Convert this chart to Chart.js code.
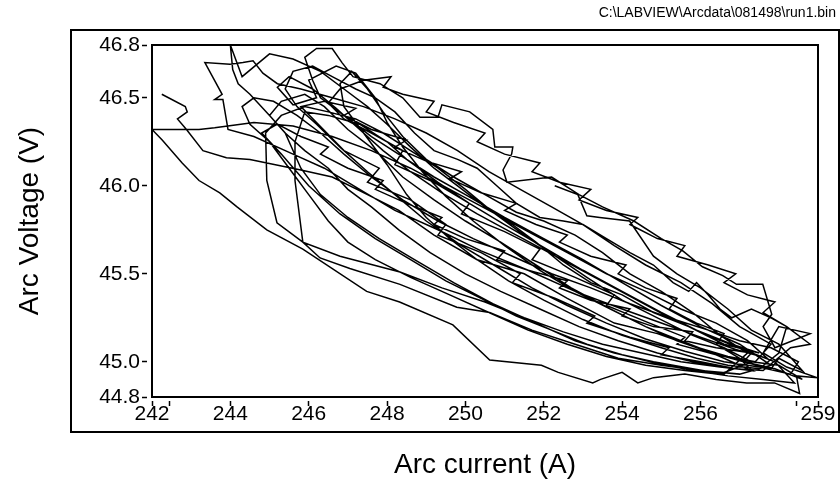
<!DOCTYPE html>
<html>
<head>
<meta charset="utf-8">
<script src="https://cdn.jsdelivr.net/npm/chart.js@4.4.0/dist/chart.umd.min.js"></script>
<style>
  html, body { margin: 0; padding: 0; background: #fff; }
</style>
</head>
<body>
<canvas id="canvas" width="840" height="487"></canvas>
<script>
// Arc current (A) / arc voltage (V) samples in order
const arcCurrent = [
  242.25, 242.85, 242.9, 242.65, 242.88, 243.3, 243.9, 244.5, 245.8, 246.6, 247.5, 248.3, 249.2, 250.3, 251.5, 252.6, 253.8, 254.9, 255.8, 256.7, 257.4,
  257.8, 257.0, 256.3, 255.5, 254.6, 253.8, 253.0, 252.2, 251.4, 250.6, 249.8, 249.0, 248.2, 247.4, 246.6, 245.8, 245.2, 244.83, 244.58, 244.32,
  243.99, 243.35, 243.79, 243.6, 243.81, 243.94, 244.6, 245.6, 246.4, 247.3, 248.2, 249.3, 250.4, 251.6, 252.8, 254.0, 255.0, 256.0, 256.9, 257.7,
  257.2, 256.4, 255.5, 254.6, 253.6, 252.6, 251.6, 250.6, 249.6, 248.6, 247.6, 246.6, 245.6, 244.6, 243.6, 243.2, 242.0,
  242.26, 242.77, 243.2, 243.73, 244.17, 244.93, 245.85, 247.48, 248.32, 249.68, 250.62, 251.94, 252.37, 253.25, 253.45, 254.0, 254.4, 254.8, 255.6, 256.4, 257.18, 257.89, 258.53, 258.45, 258.97, 258.2,
  257.6, 258.0, 258.8, 257.9, 257.6, 257.82, 257.59, 256.92, 256.57, 256.05, 255.55, 255.0, 254.3, 253.5, 252.9, 252.2, 251.06, 250.96, 251.18, 251.21, 250.75, 250.7, 250.11, 249.4, 249.3,
  248.84, 248.4, 247.82, 247.48, 247.13, 246.85, 246.6, 246.2, 245.9, 246.1, 246.3, 246.9, 247.6, 248.5, 249.3, 250.1, 251.0, 252.0, 253.0, 254.0, 255.0, 255.9, 256.8, 257.5,
  256.6, 255.7, 254.8, 254.0, 253.2, 252.5, 251.8, 251.2, 250.5, 249.8, 249.2, 248.6, 248.0, 247.5, 246.9, 246.3, 245.6, 245.0, 244.3, 244.0,
  244.06, 244.2, 244.5, 245.0, 245.4, 245.9, 246.5, 247.0, 247.6, 248.3, 249.1, 250.0, 250.9, 251.9, 252.9, 253.9, 254.9, 255.8, 256.6, 257.3,
  256.3, 255.4, 254.6, 253.7, 252.7, 251.8, 250.9, 250.0, 249.2, 248.4, 247.7, 247.0, 246.4, 245.9, 245.3,
  245.0, 245.4, 245.8, 246.3, 247.0, 247.8, 248.7, 249.7, 250.7, 251.8, 252.8, 253.8, 254.8, 255.8, 256.6,
  257.2, 256.5, 255.8, 255.0, 254.2, 253.5, 252.8, 252.0, 251.3, 250.5, 249.7, 249.0, 248.4, 247.9, 247.5, 247.1,
  246.8, 246.9, 247.4, 248.0, 248.5, 249.0, 249.6, 250.3, 251.1, 252.0, 253.0, 254.0, 255.0, 255.9, 256.7, 257.5,
  258.0, 258.2, 257.8, 257.3, 256.8, 256.5, 256.2, 255.9, 255.7, 255.3, 254.8, 254.2, 253.6, 253.0, 252.5,
  251.9, 251.3, 250.8, 250.3, 249.8, 249.2, 248.7, 248.2, 247.7, 247.2, 246.6, 246.1, 245.6, 245.4, 245.7,
  246.2, 246.8, 247.5, 248.2, 249.0, 249.9, 250.8, 251.7, 252.6, 253.6, 254.6, 255.6, 256.6, 257.5, 258.3,
  258.5, 257.8, 257.0, 256.2, 255.2, 254.2, 253.2, 252.2, 251.2, 250.2, 249.3, 248.4, 247.6, 246.9, 246.3, 245.7, 245.1, 244.6,
  244.3, 244.5, 245.0, 245.5, 246.0, 246.5, 247.0, 247.7, 248.6, 249.6, 250.6, 251.6, 252.6, 253.6, 254.6, 255.6, 256.5,
  257.3, 256.6, 255.8, 254.9, 254.0, 253.1, 252.3, 251.5, 250.7, 250.0, 249.3, 248.6, 247.9, 247.2, 246.5, 245.9,
  245.3, 244.9, 244.93, 245.19, 245.85, 246.29, 247.05, 248.33, 249.78, 250.62, 251.7, 252.8, 253.9, 255.0, 256.0, 257.0,
  257.8, 257.0, 256.0, 255.0, 254.0, 253.0, 252.0, 251.0, 250.0, 249.2, 248.5, 248.0, 247.3, 246.5, 245.9,
  245.65, 245.65, 245.85, 246.8, 248.33, 249.4, 250.5, 251.5, 252.5, 253.5, 254.5, 255.5, 256.5, 257.3,
  257.0, 256.4, 256.6, 255.9, 255.2, 255.4, 254.6, 253.9, 254.1, 253.2, 252.4, 252.6, 251.8, 251.0, 251.3,
  250.4, 249.6, 249.9, 249.0, 248.2, 248.5, 247.6, 246.9, 247.2, 246.4, 245.8, 246.2, 246.9, 247.8, 247.5,
  248.6, 249.5, 249.3, 250.4, 251.4, 251.2, 252.3, 253.3, 253.1, 254.2, 255.2, 255.0, 256.0, 256.9, 257.6,
  258.3, 258.8, 258.2, 257.6, 257.9, 257.2, 256.6, 256.9, 256.2, 255.4, 255.6, 254.9, 254.2, 254.4, 253.6, 252.9, 253.2,
  252.4, 251.7, 251.9, 251.0, 250.3, 250.5, 249.7, 249.0, 249.2, 248.4, 247.9, 248.1, 247.4, 246.8, 246.5, 246.9, 247.6,
  248.4, 248.2, 249.2, 250.1, 249.9, 251.0, 251.9, 251.7, 252.8, 253.8, 253.6, 254.7, 255.6, 255.4, 256.4, 257.3, 258.0,
  258.6, 257.9, 257.1, 257.3, 256.4, 255.6, 255.8, 254.8, 254.0, 254.2, 253.2, 252.4, 252.6, 251.6, 250.8,
  251.0, 250.0, 249.2, 249.4, 248.5, 247.7, 247.9, 247.0, 246.3, 246.5, 245.8, 245.2, 244.8, 245.3, 246.0,
  246.8, 247.7, 248.6, 249.5, 250.4, 251.3, 252.2, 253.1, 254.0, 254.9, 255.8, 256.7, 257.6, 258.4,
  257.9, 257.2, 256.3, 255.3, 254.3, 253.3, 252.3, 251.3, 250.3, 249.4, 248.6, 247.9, 247.3, 246.7, 246.1, 245.5, 245.2, 245.6, 246.2,
  246.0, 246.7, 247.2, 247.7, 248.0, 248.4, 248.9, 249.5, 250.2, 251.0, 251.9, 252.8, 253.7, 254.6, 255.5, 256.3, 257.1, 257.8,
  258.0, 258.6, 258.0, 257.3, 256.7, 256.0, 255.4, 254.8, 254.19, 253.43, 253.1, 252.87, 252.28
];
const arcVoltage = [
  46.52, 46.45, 46.42, 46.38, 46.32, 46.2, 46.16, 46.15, 46.09, 46.05, 45.95, 45.86, 45.72, 45.58, 45.5, 45.36, 45.22, 45.16, 45.09, 45.03, 45.0,
  45.1, 45.2, 45.33, 45.45, 45.55, 45.66, 45.78, 45.88, 45.98, 46.08, 46.2, 46.3, 46.38, 46.45, 46.5, 46.55, 46.58, 46.64, 46.71, 46.7,
  46.69, 46.7, 46.52, 46.49, 46.49, 46.32, 46.28, 46.18, 46.1, 45.98, 45.86, 45.75, 45.63, 45.52, 45.4, 45.3, 45.22, 45.14, 45.07, 45.02,
  45.12, 45.22, 45.3, 45.4, 45.5, 45.62, 45.74, 45.86, 45.98, 46.1, 46.2, 46.28, 46.34, 46.36, 46.33, 46.32, 46.32,
  46.26, 46.13, 46.03, 45.96, 45.88, 45.75, 45.64, 45.4, 45.34, 45.21, 45.01, 44.98, 44.94, 44.88, 44.9, 44.94, 44.88, 44.91, 44.93, 44.9, 44.88, 44.88, 44.82, 44.92, 44.91, 44.97,
  45.05, 45.2, 45.16, 45.08, 45.2, 45.27, 45.44, 45.44, 45.49, 45.54, 45.63, 45.7, 45.8, 45.88, 45.95, 46.05, 46.02, 46.09, 46.18, 46.22, 46.22, 46.32, 46.42, 46.46, 46.39,
  46.39, 46.5, 46.58, 46.6, 46.62, 46.7, 46.78, 46.78, 46.73, 46.6, 46.5, 46.4, 46.28, 46.15, 46.02, 45.9, 45.78, 45.65, 45.52, 45.4, 45.28, 45.18, 45.1, 45.05,
  45.1, 45.2, 45.28, 45.38, 45.45, 45.55, 45.68, 45.78, 45.88, 46.0, 46.1, 46.22, 46.35, 46.45, 46.55, 46.65, 46.72, 46.75, 46.62, 46.8,
  46.66, 46.58, 46.52, 46.4, 46.3, 46.2, 46.1, 45.98, 45.88, 45.75, 45.62, 45.5, 45.4, 45.3, 45.2, 45.12, 45.05, 45.0, 44.97, 44.95,
  45.05, 45.12, 45.2, 45.3, 45.42, 45.55, 45.68, 45.8, 45.92, 46.05, 46.2, 46.32, 46.45, 46.52, 46.48,
  46.4, 46.3, 46.1, 45.95, 45.82, 45.7, 45.58, 45.45, 45.33, 45.22, 45.12, 45.05, 45.0, 44.96, 44.93,
  45.05, 45.15, 45.28, 45.4, 45.5, 45.62, 45.72, 45.8, 45.85, 45.95, 46.05, 46.15, 46.28, 46.42, 46.55, 46.65,
  46.58, 46.45, 46.3, 46.12, 45.95, 45.82, 45.7, 45.58, 45.46, 45.35, 45.24, 45.15, 45.08, 45.02, 44.98, 44.96,
  45.05, 45.2, 45.25, 45.3, 45.25, 45.3, 45.38, 45.45, 45.4, 45.45, 45.55, 45.62, 45.7, 45.78, 45.8,
  45.82, 45.9, 46.0, 46.1, 46.15, 46.2, 46.3, 46.42, 46.5, 46.55, 46.62, 46.68, 46.65, 46.55, 46.45,
  46.35, 46.22, 46.08, 45.95, 45.8, 45.66, 45.54, 45.42, 45.32, 45.22, 45.13, 45.06, 45.0, 44.97, 44.93,
  45.0, 45.08, 45.12, 45.18, 45.25, 45.33, 45.42, 45.5, 45.6, 45.7, 45.8, 45.92, 46.05, 46.18, 46.3, 46.4, 46.48, 46.5,
  46.45, 46.35, 46.25, 46.1, 45.95, 45.8, 45.68, 45.58, 45.48, 45.38, 45.28, 45.18, 45.1, 45.03, 44.98, 44.95, 44.93,
  45.0, 45.08, 45.15, 45.25, 45.35, 45.48, 45.6, 45.72, 45.85, 45.98, 46.1, 46.2, 46.3, 46.38, 46.42, 46.45,
  46.4, 46.3, 46.03, 45.79, 45.68, 45.59, 45.53, 45.44, 45.31, 45.28, 45.18, 45.1, 45.02, 44.98, 44.95, 44.93,
  44.98, 45.1, 45.2, 45.32, 45.45, 45.58, 45.7, 45.82, 45.95, 46.05, 46.15, 46.25, 46.35, 46.4, 46.42,
  46.25, 46.03, 45.68, 45.6, 45.51, 45.42, 45.34, 45.25, 45.17, 45.1, 45.05, 45.0, 44.97, 44.95,
  45.02, 45.1, 45.16, 45.22, 45.3, 45.36, 45.42, 45.5, 45.55, 45.6, 45.68, 45.72, 45.78, 45.86, 45.9,
  45.96, 46.04, 46.08, 46.14, 46.22, 46.26, 46.32, 46.4, 46.44, 46.48, 46.45, 46.36, 46.2, 46.1, 46.02,
  45.92, 45.78, 45.72, 45.62, 45.5, 45.45, 45.36, 45.26, 45.22, 45.14, 45.08, 45.04, 45.0, 44.96, 44.95,
  45.08, 45.1, 45.2, 45.28, 45.34, 45.38, 45.45, 45.5, 45.55, 45.6, 45.66, 45.7, 45.78, 45.82, 45.86, 45.92, 45.98,
  46.02, 46.08, 46.13, 46.18, 46.25, 46.3, 46.36, 46.42, 46.48, 46.52, 46.56, 46.62, 46.6, 46.55, 46.47, 46.38, 46.3,
  46.2, 46.12, 46.02, 45.9, 45.84, 45.74, 45.64, 45.58, 45.48, 45.38, 45.32, 45.22, 45.14, 45.1, 45.04, 45.0, 44.98,
  44.9, 44.96, 45.0, 45.05, 45.08, 45.12, 45.17, 45.2, 45.26, 45.3, 45.35, 45.42, 45.46, 45.52, 45.58,
  45.63, 45.7, 45.78, 45.82, 45.9, 45.98, 46.03, 46.1, 46.18, 46.22, 46.28, 46.35, 46.3, 46.18, 46.0,
  45.84, 45.7, 45.58, 45.46, 45.36, 45.26, 45.18, 45.1, 45.04, 44.99, 44.95, 44.92, 44.9, 44.88,
  45.0, 45.06, 45.14, 45.24, 45.36, 45.48, 45.6, 45.72, 45.84, 45.96, 46.08, 46.2, 46.32, 46.44, 46.55, 46.62, 46.56, 46.46, 46.5,
  46.6, 46.68, 46.64, 46.5, 46.36, 46.22, 46.08, 45.94, 45.8, 45.66, 45.52, 45.4, 45.3, 45.2, 45.12, 45.05, 45.0, 44.96,
  45.02, 44.95, 45.1, 45.18, 45.3, 45.42, 45.5, 45.6, 45.8, 45.82, 45.83, 45.95, 46.0
];

// axis ticks (the two unlabelled x ticks mark the data range)
const xTicks = [242, 242.44, 244, 246, 248, 250, 252, 254, 256, 258.46, 259];
const xTickLabels = ['242', '', '244', '246', '248', '250', '252', '254', '256', '', '259'];
const yTicks = [44.8, 45.0, 45.5, 46.0, 46.5, 46.8];
const yTickLabels = ['44.8', '45.0', '45.5', '46.0', '46.5', '46.8'];

const fileLabel = 'C:\\LABVIEW\\Arcdata\\081498\\run1.bin';
const FONT = "'Liberation Sans', Arial, sans-serif";

const points = arcCurrent.map((x, i) => ({ x: x, y: arcVoltage[i] }));

// plot box, outer frame and file name in the corner
const framePlugin = {
    id: 'frame',
    afterDraw(chart) {
        const { ctx, chartArea: a } = chart;
        ctx.save();
        ctx.strokeStyle = '#000';
        ctx.lineWidth = 2;
        ctx.strokeRect(a.left, a.top, a.right - a.left, a.bottom - a.top);
        ctx.strokeRect(71, 30, 768, 402);
        ctx.fillStyle = '#000';
        ctx.font = '14px ' + FONT;
        ctx.textAlign = 'right';
        ctx.textBaseline = 'middle';
        ctx.fillText(fileLabel, 836, 13);
        ctx.restore();
    }
};

Chart.defaults.font.family = FONT;
Chart.defaults.color = '#000';

new Chart(document.getElementById('canvas'), {
    type: 'scatter',
    data: {
        datasets: [{
            data: points,
            showLine: true,
            borderColor: '#000',
            borderWidth: 1.5,
            pointRadius: 0,
            tension: 0
        }]
    },
    options: {
        responsive: false,
        animation: false,
        layout: { padding: { top: 45, right: 22, bottom: 0, left: 0 } },
        plugins: {
            legend: { display: false },
            tooltip: { enabled: false }
        },
        scales: {
            x: {
                type: 'linear',
                min: 242,
                max: 259,
                afterBuildTicks: (scale) => { scale.ticks = xTicks.map(v => ({ value: v })); },
                afterFit: (scale) => { scale.height = 90; },
                ticks: {
                    autoSkip: false,
                    maxRotation: 0,
                    padding: -4,
                    font: { size: 21 },
                    callback: (value, index) => xTickLabels[index]
                },
                grid: {
                    drawOnChartArea: false,
                    tickLength: 9,
                    tickWidth: 1.5,
                    tickColor: '#000',
                    tickBorderDash: [5, 4],
                    tickBorderDashOffset: 5
                },
                border: { display: false },
                title: {
                    display: true,
                    text: 'Arc current (A)',
                    font: { size: 28 },
                    padding: { top: 0, bottom: 5 }
                }
            },
            y: {
                type: 'linear',
                min: 44.8,
                max: 46.8,
                afterBuildTicks: (scale) => { scale.ticks = yTicks.map(v => ({ value: v })); },
                afterFit: (scale) => { scale.width = 152; },
                ticks: {
                    autoSkip: false,
                    padding: 2,
                    font: { size: 21 },
                    callback: (value, index) => yTickLabels[index]
                },
                grid: {
                    drawOnChartArea: false,
                    tickLength: 10,
                    tickWidth: 1.5,
                    tickColor: '#000',
                    tickBorderDash: [5, 5]
                },
                border: { display: false },
                title: {
                    display: true,
                    text: 'Arc Voltage (V)',
                    font: { size: 28 },
                    padding: { top: 13, bottom: 0 }
                }
            }
        }
    },
    plugins: [framePlugin]
});
</script>
</body>
</html>
